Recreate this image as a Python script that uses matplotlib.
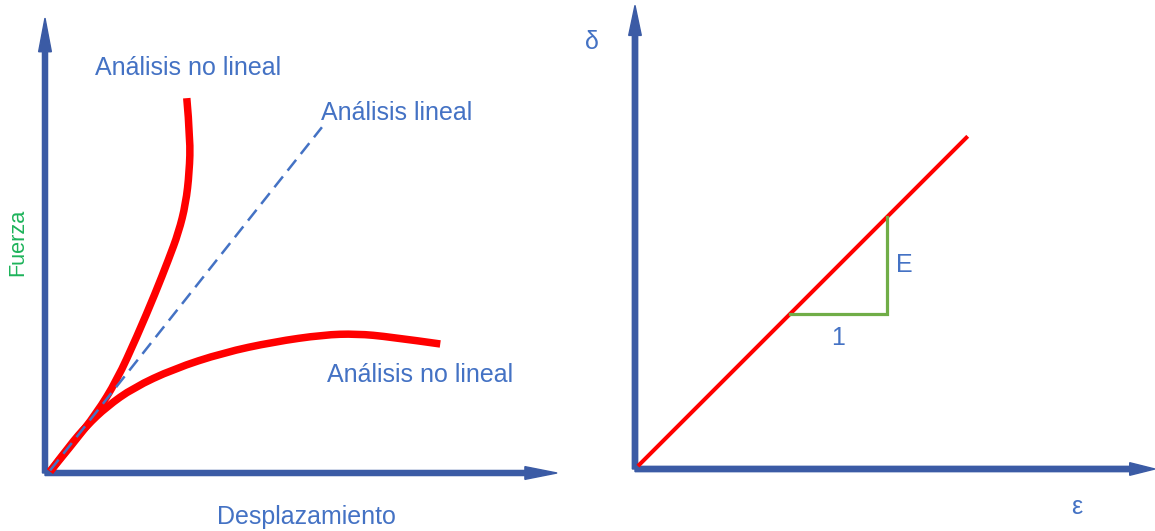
import matplotlib
matplotlib.use("Agg")
import matplotlib.pyplot as plt
from matplotlib.patches import FancyArrow, PathPatch
from matplotlib.path import Path

plt.rcParams['font.family'] = ['Liberation Sans', 'DejaVu Sans']

# left panel: force vs displacement (1 unit = 51 px)
stiff_x = [0.10, 0.55, 1.01, 1.41, 1.80, 2.16, 2.42, 2.62, 2.76, 2.83, 2.85, 2.78]
stiff_y = [0.03, 0.58, 1.17, 1.82, 2.67, 3.52, 4.18, 4.72, 5.28, 5.90, 6.55, 7.35]
soft_x = [0.10, 0.49, 0.82, 1.21, 1.73, 2.52, 3.50, 4.48, 5.46, 6.11, 6.76, 7.75]
soft_y = [0.03, 0.55, 0.93, 1.30, 1.67, 2.04, 2.36, 2.57, 2.71, 2.73, 2.67, 2.53]
linear_x = [0.10, 5.43]
linear_y = [0.05, 6.78]

# right panel: stress-strain (1 unit = 97 px)
hooke_x = [0.03, 3.43]
hooke_y = [0.03, 3.43]
tri_x = [1.60, 2.60, 2.60]
tri_y = [1.60, 1.60, 2.60]

axis_col = '#3B5BA5'
text_col = '#4472C4'
red = '#FF0000'


def smooth_curve(ax, xs, ys, **kw):
    # quadratic bezier through midpoints, points used as control points
    pts = list(zip(xs, ys))
    verts = [pts[0]]
    codes = [Path.MOVETO]
    for i in range(1, len(pts) - 1):
        mid = ((pts[i][0] + pts[i + 1][0]) / 2, (pts[i][1] + pts[i + 1][1]) / 2)
        if i == len(pts) - 2:
            mid = pts[-1]
        verts += [pts[i], mid]
        codes += [Path.CURVE3, Path.CURVE3]
    ax.add_patch(PathPatch(Path(verts, codes), fill=False, **kw))


W, H = 1155, 531
fig = plt.figure(figsize=(W / 100, H / 100), dpi=100)

# ---- left panel
ax1 = fig.add_axes([45 / W, 58 / H, 510 / W, 459 / H])
ax1.set_xlim(0, 10)
ax1.set_ylim(0, 9)
ax1.axis('off')

ax1.add_patch(FancyArrow(0, 0, 10.04, 0, width=0.1, head_width=0.25, head_length=0.63,
                         length_includes_head=True, color=axis_col, clip_on=False))
ax1.add_patch(FancyArrow(0, 0, 0, 8.92, width=0.1, head_width=0.25, head_length=0.66,
                         length_includes_head=True, color=axis_col, clip_on=False))

ax1.plot(linear_x, linear_y, color=text_col, lw=1.8, dashes=(5.5, 3), clip_on=False)
smooth_curve(ax1, stiff_x, stiff_y, edgecolor=red, lw=5.4, capstyle='butt', joinstyle='round', clip_on=False)
smooth_curve(ax1, soft_x, soft_y, edgecolor=red, lw=5.4, capstyle='butt', joinstyle='round', clip_on=False)

fs = 18
ax1.text(0.98, 7.94, 'Análisis no lineal', color=text_col, fontsize=fs, ha='left', va='center')
ax1.text(5.41, 7.06, 'Análisis lineal', color=text_col, fontsize=fs, ha='left', va='center')
ax1.text(5.53, 1.92, 'Análisis no lineal', color=text_col, fontsize=fs, ha='left', va='center')
ax1.text(-0.53, 4.53, 'Fuerza', color='#1DB35A', fontsize=15.6, rotation=90, ha='center', va='center')
ax1.text(5.12, -0.86, 'Desplazamiento', color=text_col, fontsize=fs, ha='center', va='center')

# ---- right panel
ax2 = fig.add_axes([635 / W, 62 / H, 520 / W, 469 / H])
ax2.set_xlim(0, 520 / 97)
ax2.set_ylim(0, 469 / 97)
ax2.axis('off')

ax2.add_patch(FancyArrow(0, 0, 5.36, 0, width=0.055, head_width=0.13, head_length=0.26,
                         length_includes_head=True, color=axis_col, clip_on=False))
ax2.add_patch(FancyArrow(0, 0, 0, 4.78, width=0.055, head_width=0.13, head_length=0.31,
                         length_includes_head=True, color=axis_col, clip_on=False))

ax2.plot(hooke_x, hooke_y, color=red, lw=2.9, solid_capstyle='butt')
ax2.plot(tri_x, tri_y, color='#70AD47', lw=2.3, solid_joinstyle='miter')

ax2.text(-0.44, 4.40, 'δ', color=text_col, fontsize=fs, ha='center', va='center')
ax2.text(2.78, 2.10, 'E', color=text_col, fontsize=fs, ha='center', va='center')
ax2.text(2.09, 1.35, '1', color=text_col, fontsize=fs, ha='center', va='center')
ax2.text(4.55, -0.39, 'ε', color=text_col, fontsize=fs, ha='center', va='center')

fig.savefig('out.png', dpi=100, facecolor='white')
